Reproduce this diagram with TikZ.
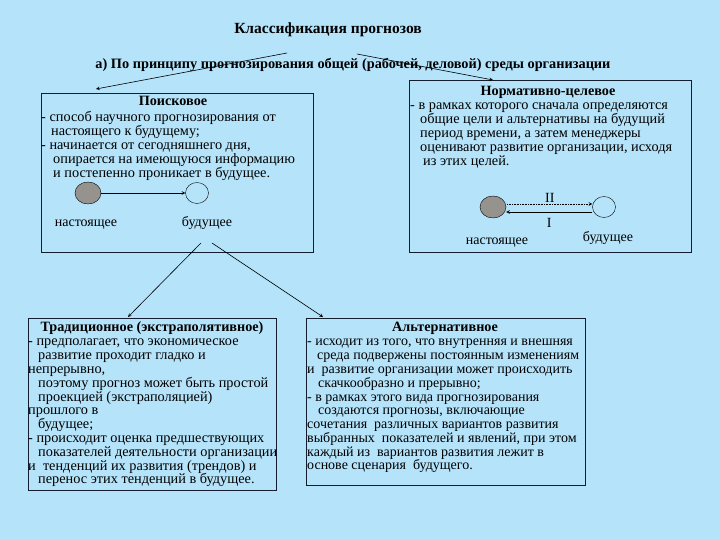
\documentclass[tikz,border=0pt]{standalone}
\usepackage{fontspec}
\setmainfont{Liberation Serif}
\usetikzlibrary{arrows,shapes.geometric,calc,positioning}
\definecolor{skybg}{RGB}{180,227,250}
\definecolor{frame}{RGB}{20,28,48}
\definecolor{nowgray}{RGB}{150,146,142}

\begin{document}
\begin{tikzpicture}[x=1pt,y=-1pt,>=stealth,
    box/.style={draw=frame, line width=1.1pt, anchor=north west, inner sep=0pt},
    txt/.style={anchor=north west, align=left, inner sep=0pt, font=\fontsize{14.3}{14}\selectfont},
    hdr/.style={inner sep=0pt, font=\bfseries\fontsize{14.2}{14}\selectfont},
    con/.style={->, line width=0.6pt},
    now/.style={ellipse, draw, fill=nowgray, minimum width=26pt, minimum height=22pt, inner sep=0pt},
    fut/.style={ellipse, draw, fill=skybg, minimum width=23pt, minimum height=21pt, inner sep=0pt},
    lbl/.style={inner sep=1pt, anchor=base, font=\fontsize{14}{14}\selectfont}]
		%background
		\fill[skybg] (0,0) rectangle (720,540);
		\useasboundingbox (0,0) rectangle (720,540);
		
		%titles
		\node[hdr, font=\bfseries\fontsize{15.5}{16}\selectfont] (title) at (328,30) {Классификация прогнозов};
		\node[hdr, font=\bfseries\fontsize{14.3}{15}\selectfont] (sub) at (353,65) {а) По принципу прогнозирования общей (рабочей, деловой) среды организации};
		
		%boxes
		\node[box, minimum width=272pt, minimum height=159pt] (poisk) at (41,93) {};
		\node[box, minimum width=282pt, minimum height=172pt] (norm) at (409,80) {};
		\node[box, minimum width=248pt, minimum height=172pt] (trad) at (28,318) {};
		\node[box, minimum width=279pt, minimum height=167pt] (alt) at (306,318) {};
		
		%coordinates
		\coordinate (splitL) at (287,53);
		\coordinate (splitR) at (357,54);
		\coordinate (forkL)  at (201,243);
		\coordinate (forkR)  at (212,243);
		
		\draw[con] (splitL) -- ($(poisk.north west)+(55,-4)$);
		\draw[con] (splitR) -- ($(norm.north west)+(84,0)$);
		\draw[con] (forkL) -- ($(trad.north west)+(100,-1)$);
		\draw[con] (forkR) -- ($(alt.north west)+(17,-1)$);
		
		%Poiskovoe
		\node[hdr] (poiskH) at (173,101) {Поисковое};
		\node[txt] (poiskT) at (41,111) {- способ научного прогнозирования от\\
			\hspace*{10pt}настоящего к будущему;\\
			- начинается от сегодняшнего дня,\\
			\hspace*{12pt}опирается на имеющуюся информацию\\
			\hspace*{12pt}и постепенно проникает в будущее.};
		\node[now] (nowA) at (88,193) {};
		\node[fut] (futA) at (197,193) {};
		\draw[con] (nowA) -- (futA);
		\node[lbl] (nowAL) at (86,226) {настоящее};
		\node[lbl] (futAL) at (207,226) {будущее};
		
		%Normativno-celevoe
		\node[hdr] (normH) at (548,92) {Нормативно-целевое};
		\node[txt] (normT) at (410,103) {- в рамках которого сначала определяются\\
			\hspace*{10pt}общие цели и альтернативы на будущий\\
			\hspace*{10pt}период времени, а затем менеджеры\\
			\hspace*{10pt}оценивают развитие организации, исходя\\
			\hspace*{13pt}из этих целей.};
		\node[now] (nowB) at (493,207) {};
		\node[fut] (futB) at (604,207) {};
		\draw[con, densely dotted] ($(nowB.east)+(1,-3)$) -- node[lbl, anchor=south, above=0pt]{II} ($(futB.west)+(0,-3)$);
		\draw[con] ($(futB.west)+(0,5)$) -- node[lbl, anchor=north, below=5pt]{I} ($(nowB.east)+(0,5)$);
		\node[lbl] (nowBL) at (497,244) {настоящее};
		\node[lbl] (futBL) at (608,241) {будущее};
		
		%Tradicionnoe
		\node[hdr] (tradH) at (152,328) {Традиционное (экстраполятивное)};
		\node[txt, font=\fontsize{14.3}{13.8}\selectfont] (tradT) at (28,339) {- предполагает, что экономическое\\
			\hspace*{10pt}развитие проходит гладко и\\
			непрерывно,\\
			\hspace*{10pt}поэтому прогноз может быть простой\\
			\hspace*{10pt}проекцией (экстраполяцией)\\
			прошлого в\\
			\hspace*{10pt}будущее;\\
			- происходит оценка предшествующих\\
			\hspace*{10pt}показателей деятельности организации\\
			и\ \ тенденций их развития (трендов) и\\
			\hspace*{10pt}перенос этих тенденций в будущее.};
		
		%Alternativnoe
		\node[hdr] (altH) at (445,328) {Альтернативное};
		\node[txt, font=\fontsize{14}{13.8}\selectfont] (altT) at (307,339) {- исходит из того, что внутренняя и внешняя\\
			\hspace*{10pt}среда подвержены постоянным изменениям\\
			и\ \ развитие организации может происходить\\
			\hspace*{11pt}скачкообразно и прерывно;\\
			- в рамках этого вида прогнозирования\\
			\hspace*{11pt}создаются прогнозы, включающие\\
			сочетания\ \ различных вариантов развития\\
			выбранных\ \ показателей и явлений, при этом\\
			каждый из\ \ вариантов развития лежит в\\
			основе сценария\ \ будущего.};
\end{tikzpicture}
\end{document}
